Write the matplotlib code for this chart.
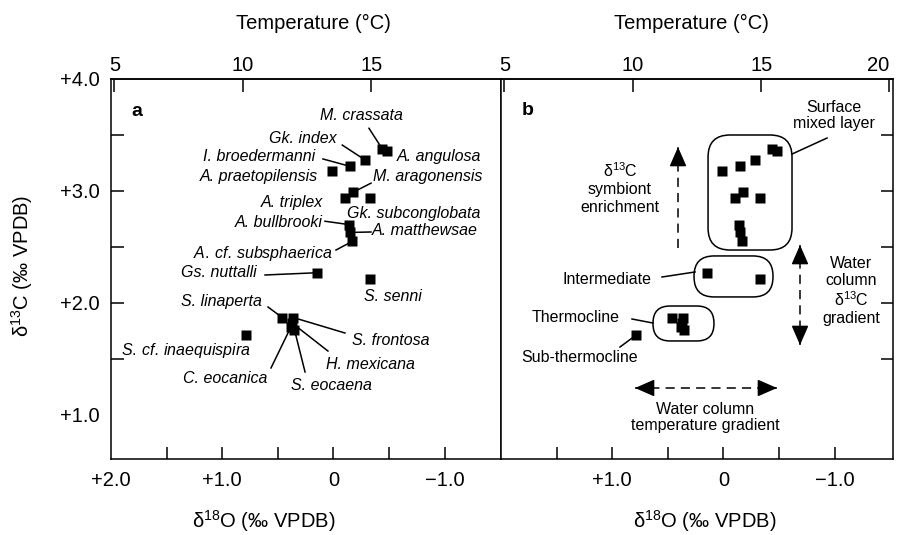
import matplotlib
matplotlib.use("Agg")
import matplotlib.pyplot as plt
from matplotlib.patches import FancyBboxPatch
import numpy as np

plt.rcParams['font.family'] = ['Liberation Sans', 'DejaVu Sans']
plt.rcParams['mathtext.fontset'] = 'custom'
plt.rcParams['mathtext.rm'] = 'Liberation Sans'
plt.rcParams['mathtext.it'] = 'Liberation Sans:italic'
plt.rcParams['axes.linewidth'] = 1.1

# species, d18O, d13C (per mil VPDB)
species = ['M. crassata', 'A. angulosa', 'Gk. index', 'I. broedermanni',
           'A. praetopilensis', 'M. aragonensis', 'A. triplex',
           'Gk. subconglobata', 'A. bullbrooki', 'A. matthewsae',
           'A. cf. subsphaerica', 'Gs. nuttalli', 'S. senni',
           'S. linaperta', 'S. frontosa', 'H. mexicana', 'C. eocanica',
           'S. eocaena', 'S. cf. inaequispira']
d18o = [-0.44, -0.48, -0.28, -0.15, 0.01, -0.18, -0.10, -0.33, -0.14, -0.15,
        -0.17, 0.15, -0.33, 0.46, 0.36, 0.37, 0.38, 0.35, 0.79]
d13c = [3.375, 3.36, 3.28, 3.22, 3.18, 2.99, 2.94, 2.94, 2.70, 2.63,
        2.55, 2.27, 2.21, 1.87, 1.87, 1.82, 1.79, 1.76, 1.71]

x_ticks = [2.0, 1.0, 0.0, -1.0]
x_ticklabels = ['+2.0', '+1.0', '0', '\u22121.0']
y_ticks = [1.0, 2.0, 3.0, 4.0]
y_ticklabels = ['+1.0', '+2.0', '+3.0', '+4.0']
temp_ticks_a = [5, 10, 15]
temp_ticks_b = [5, 10, 15, 20]

# temperature scale on the top axis
T0, TSLOPE = 13.53, -4.333


def d2t(d):
    return T0 + TSLOPE * np.asarray(d)


def t2d(t):
    return (np.asarray(t) - T0) / TSLOPE


def sp_label(name):
    # "cf." is set upright, the rest in italics
    if ' cf. ' in name:
        g, s = name.split(' cf. ')
        return r'$\it{' + g + r'}$' + '\u2009cf. ' + r'$\it{' + s + r'}$'
    return name


# label layout for panel a: text x, text y, ha, leader start (or None)
label_layout = {
    'M. crassata': (-0.25, 3.67, 'center', (-0.32, 3.56)),
    'A. angulosa': (-0.57, 3.31, 'left', None),
    'Gk. index': (-0.03, 3.47, 'right', (-0.08, 3.41)),
    'I. broedermanni': (0.165, 3.31, 'right', (0.094, 3.286)),
    'A. praetopilensis': (0.138, 3.125, 'right', None),
    'M. aragonensis': (-0.356, 3.125, 'left', (-0.338, 3.07)),
    'A. triplex': (0.094, 2.90, 'right', None),
    'Gk. subconglobata': (-0.122, 2.80, 'left', None),
    'A. bullbrooki': (0.094, 2.723, 'right', (0.076, 2.73)),
    'A. matthewsae': (-0.347, 2.643, 'left', (-0.338, 2.634)),
    'A. cf. subsphaerica': (0.004, 2.446, 'right', (-0.023, 2.473)),
    'Gs. nuttalli': (0.687, 2.268, 'right', (0.615, 2.25)),
    'S. senni': (-0.536, 2.062, 'center', None),
    'S. linaperta': (0.642, 2.009, 'right', (0.588, 1.964)),
    'S. frontosa': (-0.167, 1.661, 'left', (-0.104, 1.732)),
    'H. mexicana': (0.067, 1.455, 'left', (0.049, 1.571)),
    'C. eocanica': (0.597, 1.33, 'right', (0.561, 1.42)),
    'S. eocaena': (0.381, 1.259, 'left', (0.255, 1.384)),
    'S. cf. inaequispira': (0.741, 1.58, 'right', None),
}

fig = plt.figure(figsize=(8.97, 5.35), dpi=100)
ax1 = fig.add_axes([111 / 897, 76 / 535, 390 / 897, 380 / 535])
ax2 = fig.add_axes([501 / 897, 76 / 535, 392 / 897, 380 / 535])
ax1.set_xlim(2.0, 2.0 - 390 / 111.2)
ax2.set_xlim(2.0, 2.0 - 392 / 111.2)

FS = 14.5
LFS = 11.5

for ax, tticks in ((ax1, temp_ticks_a), (ax2, temp_ticks_b)):
    ax.set_ylim(0.607, 4.0)
    ax.xaxis.remove_overlapping_locs = False
    ax.yaxis.remove_overlapping_locs = False
    ax.plot(d18o, d13c, 's', color='black', ms=7.3, mec='none', zorder=5)
    ax.set_xticks([1.5, 1.0, 0.5, 0.0, -0.5, -1.0], minor=True)
    ax.set_yticks([1.5, 2.0, 2.5, 3.0, 3.5], minor=True)
    ax.tick_params(which='minor', direction='in', length=9, width=1.1)
    ax.tick_params(which='major', length=0, labelsize=FS)
    ax.tick_params(axis='x', which='major', pad=9)
    sec = ax.secondary_xaxis('top', functions=(d2t, t2d))
    sec.set_xticks(tticks)
    sec.tick_params(direction='in', length=9, width=1.1, labelsize=FS, pad=3)
    sec.spines['top'].set_linewidth(1.1)
    if ax is ax2:
        sec.get_xticklabels()[-1].set_horizontalalignment('right')
    ax.text(0.52 if ax is ax1 else 0.487, 1.147, 'Temperature (\u00b0C)',
            transform=ax.transAxes, ha='center', va='center', fontsize=FS)

# panel a
ax1.set_xticks(x_ticks, x_ticklabels)
ax1.set_yticks(y_ticks, y_ticklabels)
ax1.tick_params(axis='y', which='minor', right=False)
ax1.tick_params(axis='y', which='major', pad=8)
ax1.text(-0.228, 0.508, r'δ$^{13}$C (‰ VPDB)', transform=ax1.transAxes,
         rotation=90, ha='center', va='center', fontsize=FS)
ax1.text(0.392, -0.162, r'δ$^{18}$O (‰ VPDB)', transform=ax1.transAxes,
         ha='center', va='center', fontsize=FS)
ax1.text(1.766, 3.714, 'a', fontsize=14, fontweight='bold',
         ha='center', va='center')

for name, x, y in zip(species, d18o, d13c):
    tx, ty, ha, lead = label_layout[name]
    ax1.text(tx, ty, sp_label(name), style='italic', fontsize=LFS,
             ha=ha, va='center')
    if lead is not None:
        ax1.plot([lead[0], x], [lead[1], y], color='black', lw=1.1, zorder=3)

# panel b
ax2.set_xticks(x_ticks[1:], x_ticklabels[1:])
ax2.set_yticks([])
ax2.tick_params(axis='y', which='minor', left=False, right=True)
ax2.text(0.52, -0.162, r'δ$^{18}$O (‰ VPDB)', transform=ax2.transAxes,
         ha='center', va='center', fontsize=FS)
ax2.text(1.757, 3.723, 'b', fontsize=14, fontweight='bold',
         ha='center', va='center')

# grouping boxes (data corners) and rounding in pixels
groups = [((0.138, 2.473), (-0.617, 3.50), 22),
          ((0.264, 2.054), (-0.446, 2.42), 20),
          ((0.633, 1.661), (0.085, 1.973), 17)]
fig.canvas.draw()
bw, bh = ax2.bbox.width, ax2.bbox.height
for c0, c1, rad in groups:
    f0 = ax2.transLimits.transform(c0)
    f1 = ax2.transLimits.transform(c1)
    box = FancyBboxPatch((f0[0], f0[1]), f1[0] - f0[0], f1[1] - f0[1],
                         boxstyle='round,pad=0,rounding_size=%f' % (rad / bw),
                         mutation_aspect=bw / bh, transform=ax2.transAxes,
                         fc='none', ec='black', lw=1.1, zorder=4)
    ax2.add_patch(box)

group_labels = [
    ('Surface\nmixed layer', -0.995, 3.674, 'center', (-0.617, 3.33), (-0.932, 3.473)),
    ('Intermediate', 0.651, 2.214, 'right', (0.552, 2.232), (0.255, 2.277)),
    ('Thermocline', 0.930, 1.866, 'right', (0.822, 1.857), (0.633, 1.821)),
    ('Sub-thermocline', 1.294, 1.509, 'center', (0.930, 1.607), (0.79, 1.71)),
]
for txt, tx, ty, ha, p0, p1 in group_labels:
    ax2.text(tx, ty, txt, fontsize=LFS, ha=ha, va='center', linespacing=1.15)
    ax2.plot([p0[0], p1[0]], [p0[1], p1[1]], color='black', lw=1.1, zorder=3)

ax2.text(0.930, 3.027, 'δ$^{13}$C\nsymbiont\nenrichment', fontsize=LFS,
         ha='center', va='center', linespacing=1.2)
ax2.text(-1.147, 2.107, 'Water\ncolumn\nδ$^{13}$C\ngradient', fontsize=LFS,
         ha='center', va='center', linespacing=1.15)
ax2.text(0.165, 0.978, 'Water column\ntemperature gradient', fontsize=LFS,
         ha='center', va='center', linespacing=1.15)

dash = (0, (6, 4))
head = dict(arrowstyle='-|>,head_length=0.8,head_width=0.35', color='black',
            lw=1.1, shrinkA=0, shrinkB=0, mutation_scale=15)


def dashed_arrow(ax, p0, p1, both=False):
    ax.plot([p0[0], p1[0]], [p0[1], p1[1]], color='black', lw=1.1,
            linestyle=dash)
    ends = [(p0, p1)] + ([(p1, p0)] if both else [])
    for a, b in ends:
        back = (b[0] + (a[0] - b[0]) * 0.12, b[1] + (a[1] - b[1]) * 0.12)
        ax.annotate('', xy=b, xytext=back, arrowprops=head)


dashed_arrow(ax2, (0.408, 2.491), (0.408, 3.393))
dashed_arrow(ax2, (-0.689, 1.625), (-0.689, 2.518), both=True)
dashed_arrow(ax2, (0.795, 1.241), (-0.482, 1.241), both=True)

fig.savefig('out.png', dpi=100)
